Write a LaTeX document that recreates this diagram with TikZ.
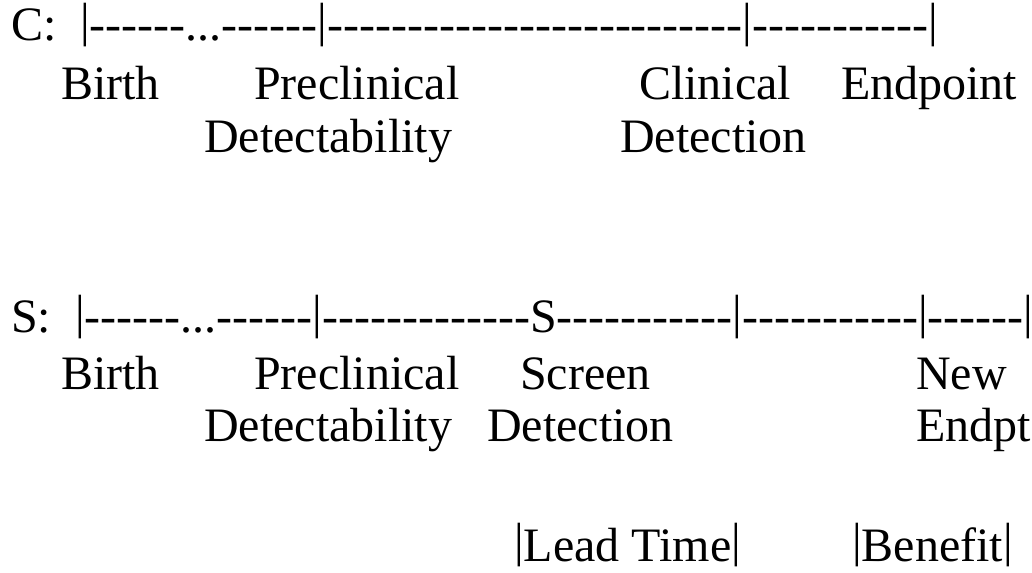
\documentclass[tikz,border=0pt]{standalone}
\usepackage{fontspec}
\newfontfamily\timeline{Liberation Serif}
\newcommand\rbar{\raisebox{0.1em}{|}}

\begin{document}
\begin{tikzpicture}[
    x=0.75pt, y=-0.75pt,
    every node/.style={anchor=base west, inner sep=0pt},
    txt/.style={font=\timeline\fontsize{36}{43}\selectfont}
  ]
  \useasboundingbox (0,0) rectangle (1032,573);

  % Clinical course
  \node[txt] (cTag) at (11,41) {C:};
  \node[txt] (cRule) at (80,41) {\rbar------...------\rbar--------------------------\rbar-----------\rbar};
  \foreach \w/\px [count=\i] in {Birth/61, Preclinical/254, Clinical/639, Endpoint/841}
    \node[txt] (cTop\i) at (\px,100) {\w};
  \foreach \w/\px [count=\i] in {Detectability/204, Detection/620}
    \node[txt] (cBot\i) at (\px,153) {\w};

  % Screened course
  \node[txt] (sTag) at (11,333) {S:};
  \node[txt] (sRule) at (75,333) {\rbar------...------\rbar-------------S-----------\rbar-----------\rbar------\rbar};
  \foreach \w/\px [count=\i] in {Birth/61, Preclinical/254, Screen/520, New/916}
    \node[txt] (sTop\i) at (\px,390) {\w};
  \foreach \w/\px [count=\i] in {Detectability/204, Detection/487, Endpt/916}
    \node[txt] (sBot\i) at (\px,442) {\w};

  % Gains
  \node[txt] (lead) at (514,561) {\rbar Lead Time\rbar};
  \node[txt] (gain) at (852,561) {\rbar Benefit\rbar};
\end{tikzpicture}
\end{document}
